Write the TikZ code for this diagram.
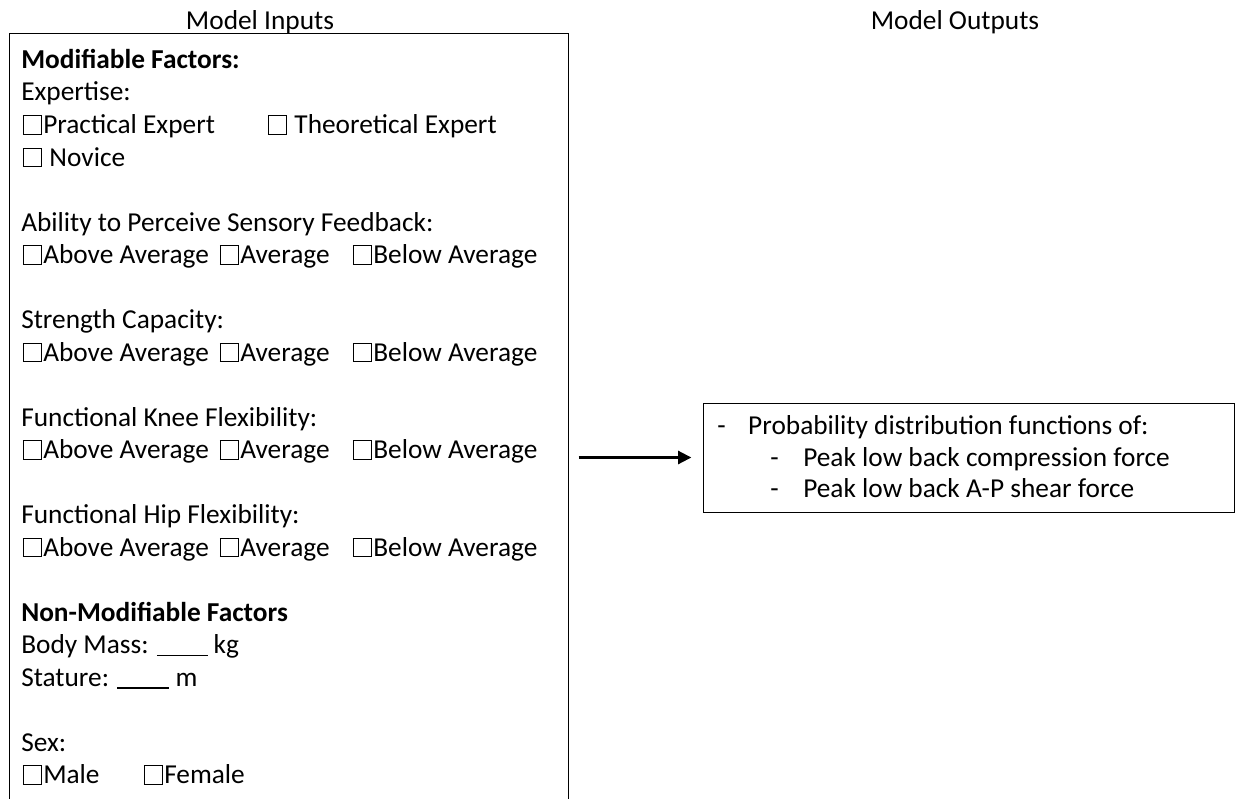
\documentclass[tikz,border=0pt]{standalone}
\usepackage{fontspec}
\setmainfont{Carlito}
\usepackage{tikz}
\usetikzlibrary{arrows.meta, fit}

% empty tick box drawn in the text line
\newcommand{\chkbox}{{\setlength{\fboxsep}{0pt}\setlength{\fboxrule}{0.75pt}%
  \kern0.5pt\fbox{\rule{0pt}{13pt}\hspace{12.75pt}}\kern1pt}}

\tikzstyle{heading} = [inner sep=0pt, anchor=base]
\tikzstyle{entry} = [inner sep=0pt, anchor=base west]
\tikzstyle{panel} = [draw=black, line width=0.75pt, inner sep=0pt]
\tikzstyle{arrow} = [line width=2.4pt, -{Triangle[length=10pt, width=9.5pt]}]

\begin{document}
\begin{tikzpicture}[x=0.75pt, y=-0.75pt, font=\fontsize{20.5}{24}\selectfont]
\useasboundingbox (0,0) rectangle (1235,799);

\node (intitle) [heading] at (260,30) {Model Inputs};
\node (outtitle) [heading] at (955,30) {Model Outputs};

% input panel runs on past the foot of the page
\node (inbox) [panel, fit={(9,34)(568,840)}] {};
\node (outbox) [panel, fit={(703,403)(1234,512)}] {};

% modifiable factors
\node (modhead) [entry] at (21,68.5) {\textbf{Modifiable Factors:}};
\node (expertise) [entry] at (21,101) {Expertise:};
\node (practical) [entry] at (22,133.5) {\chkbox Practical Expert};
\node (theoretical) [entry] at (267,133.5) {\chkbox\ Theoretical Expert};
\node (novice) [entry] at (22,166) {\chkbox\ Novice};

\node (sense) [entry] at (21,231) {Ability to Perceive Sensory Feedback:};
\node (strength) [entry] at (21,328.5) {Strength Capacity:};
\node (knee) [entry] at (21,426) {Functional Knee Flexibility:};
\node (hip) [entry] at (21,523.5) {Functional Hip Flexibility:};

\foreach \y/\n in {263.5/sense, 361/strength, 458.5/knee, 556/hip} {
  \node (\n-above) [entry] at (22,\y) {\chkbox Above Average};
  \node (\n-avg) [entry] at (219,\y) {\chkbox Average};
  \node (\n-below) [entry] at (352,\y) {\chkbox Below Average};
}

% non-modifiable factors
\node (fixhead) [entry] at (21,621) {\textbf{Non-Modifiable Factors}};
\node (mass) [entry] at (21,653.5) {Body Mass: \rule[-2pt]{38pt}{1.2pt} kg};
\node (stature) [entry] at (21,686) {Stature: \rule[-2pt]{39pt}{1.2pt} m};
\node (sex) [entry] at (21,751) {Sex:};
\node (male) [entry] at (22,783.5) {\chkbox Male};
\node (female) [entry] at (143,783.5) {\chkbox Female};

% outputs
\node (pdf) [entry] at (717,434) {\makebox[23.25pt][l]{-}Probability distribution functions of:};
\node (comp) [entry] at (770,466) {\makebox[24.75pt][l]{-}Peak low back compression force};
\node (shear) [entry] at (770,497) {\makebox[24.75pt][l]{-}Peak low back A-P shear force};

\draw [arrow, shorten <=7.5pt, shorten >=8.25pt] (outbox.west -| inbox.east) -- (outbox.west);

\end{tikzpicture}
\end{document}
